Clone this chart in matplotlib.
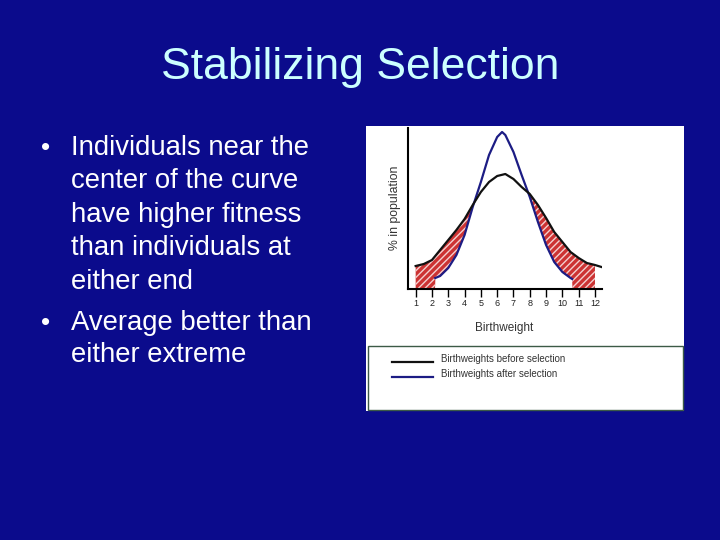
import matplotlib.pyplot as plt
import matplotlib.patches as patches
import numpy as np

plt.rcParams['font.family'] = ['Liberation Sans', 'DejaVu Sans']
plt.rcParams['hatch.linewidth'] = 1.0

# slide text
title = 'Stabilizing Selection'
bullet_lines = [
    ('•', 'Individuals near the'),
    ('', 'center of the curve'),
    ('', 'have higher fitness'),
    ('', 'than individuals at'),
    ('', 'either end'),
    ('•', 'Average better than'),
    ('', 'either extreme'),
]

# birthweight curves (arbitrary % units)
x_before = [1, 1.5, 2, 2.5, 3, 3.5, 4, 4.5, 5, 5.5, 6, 6.5, 7, 7.5, 8,
            8.5, 9, 9.5, 10, 10.5, 11, 11.5, 12, 12.4]
y_before = [23, 25, 29, 39, 49, 59, 70, 84, 97, 107, 113, 115, 110, 102, 95,
            84, 71, 57, 47, 37, 31, 26, 24, 22]
x_after = [2.2, 2.5, 3, 3.5, 4, 4.5, 5, 5.5, 6, 6.3, 6.5, 7, 7.5, 8,
           8.5, 9, 9.5, 10, 10.5, 10.6]
y_after = [11, 13, 21, 34, 54, 82, 107, 134, 152, 157, 154, 137, 114, 92,
           67, 44, 27, 17, 11, 10]
ticks = list(range(1, 13))

W, H = 720, 540
bg = '#0b0b8c'
fig = plt.figure(figsize=(7.2, 5.4), dpi=100, facecolor=bg)


def fx(px):
    return px / W


def fy(py):
    return 1 - py / H


fig.text(0.5, fy(68), title, ha='center', va='center', color='#ccffff',
         fontsize=32)

line_y = [148, 181, 215, 248, 282, 323, 355]
for (b, t), yy in zip(bullet_lines, line_y):
    if b:
        fig.text(fx(46), fy(yy), b, ha='center', va='center', color='white',
                 fontsize=19)
    fig.text(fx(71), fy(yy), t, ha='left', va='center', color='white',
             fontsize=19.8)

# white picture panel
fig.patches.append(patches.Rectangle((fx(366), fy(411)), fx(684) - fx(366),
                                     fy(126) - fy(411), transform=fig.transFigure,
                                     facecolor='white', edgecolor='none', zorder=-2))
# legend box
fig.patches.append(patches.Rectangle((fx(368), fy(410)), fx(683) - fx(368),
                                     fy(346) - fy(410), transform=fig.transFigure,
                                     facecolor='white', edgecolor='#3c5a46', lw=1,
                                     zorder=-1))

ax = fig.add_axes([fx(408), fy(289), fx(602) - fx(408), fy(128) - fy(289)])
ax.set_facecolor('none')

xb = np.array(x_before, float)
yb = np.array(y_before, float)
xf = np.linspace(1, 12, 400)
top = np.interp(xf, xb, yb)
low = np.interp(xf, x_after, y_after, left=0, right=0)
ax.fill_between(xf, low, top, where=top > low, facecolor='#cc3333',
                edgecolor='#f4d0d0', hatch='/////', lw=0, zorder=1)

ax.plot(x_before, y_before, color='#111111', lw=1.6, zorder=3)
ax.plot(x_after, y_after, color='#1c1c84', lw=1.6, zorder=2)

ax.set_xlim(0.53, 12.43)
ax.set_ylim(0, 161)
ax.set_xticks(ticks)
ax.set_xticklabels([str(t) for t in ticks], fontsize=6.5, color='#222222')
ax.tick_params(axis='x', direction='out', length=6, width=1, pad=1,
               color='black')
ax.set_yticks([])
for s in ['top', 'right']:
    ax.spines[s].set_visible(False)
for s in ['left', 'bottom']:
    ax.spines[s].set_linewidth(1.5)
    ax.spines[s].set_color('black')

fig.text(fx(504), fy(328), 'Birthweight', ha='center', va='center',
         fontsize=8.5, color='#333333')
fig.text(fx(395), fy(208), '% in population', ha='center', va='center',
         rotation=90, fontsize=8.8, color='#333333')

# legend entries
leg = [('Birthweights before selection', '#111111', 362),
       ('Birthweights after selection', '#1c1c84', 377)]
for txt, c, yy in leg:
    fig.add_artist(plt.Line2D([fx(392), fx(433)], [fy(yy), fy(yy)], color=c,
                              lw=1.6, transform=fig.transFigure))
    fig.text(fx(441), fy(yy - 3), txt, ha='left', va='center', fontsize=7,
             color='#333333')

fig.savefig('out.png', dpi=100, facecolor=bg)
